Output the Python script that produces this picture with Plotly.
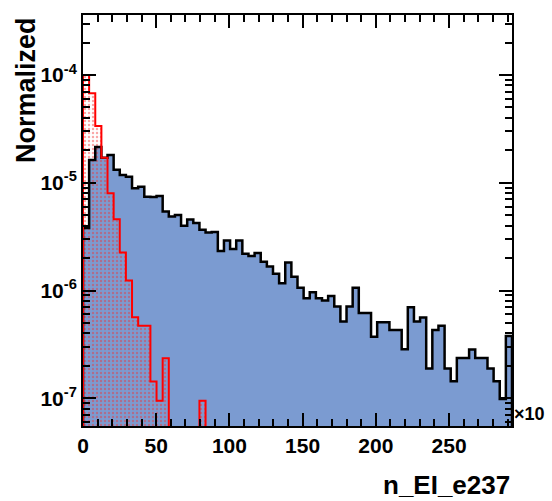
import numpy as np
import plotly.graph_objects as go

# Histogram binning (70 equal bins)
x_min, x_max = 0.0, 293.0
n_bins = 70

# Normalized bin contents, blue (filled) histogram
blue_vals = [
    3.81e-6, 1.63e-5, 2.15e-5, 1.71e-5, 1.81e-5, 1.32e-5, 1.18e-5, 1.14e-5, 8.89e-6, 9.2e-6,
    7.43e-6, 7.38e-6, 7.55e-6, 5.42e-6, 4.87e-6, 5.02e-6, 4.0e-6, 4.57e-6, 4.24e-6, 3.67e-6,
    3.46e-6, 3.50e-6, 2.33e-6, 2.92e-6, 2.43e-6, 2.92e-6, 2.20e-6, 2.09e-6, 2.23e-6, 1.85e-6,
    1.67e-6, 1.43e-6, 1.17e-6, 1.82e-6, 1.34e-6, 1.06e-6, 8.49e-7, 9.65e-7, 8.49e-7, 8.09e-7,
    8.91e-7, 7.10e-7, 5.15e-7, 7.10e-7, 1.06e-6, 6.19e-7, 6.19e-7, 3.73e-7, 5.08e-7, 5.08e-7,
    4.31e-7, 4.31e-7, 2.85e-7, 7.0e-7, 5.16e-7, 5.62e-7, 1.89e-7, 4.31e-7, 4.70e-7, 1.89e-7,
    1.44e-7, 2.37e-7, 2.37e-7, 2.84e-7, 2.37e-7, 2.37e-7, 1.89e-7, 1.44e-7, 9.87e-8, 3.79e-7,
]

# Normalized bin contents, red (hatched) histogram
red_vals = [
    1.0e-4, 6.76e-5, 3.36e-5, 1.71e-5, 8.0e-6, 4.58e-6, 2.25e-6, 1.24e-6, 5.65e-7, 4.7e-7,
    4.7e-7, 1.43e-7, 9.5e-8, 2.35e-7, 0, 0, 0, 0, 0, 9.5e-8,
] + [0] * 50

x_tick_vals = [0, 50, 100, 150, 200, 250]
x_tick_text = ["0", "50", "100", "150", "200", "250"]
y_tick_vals = [1e-7, 1e-6, 1e-5, 1e-4]
y_tick_text = ["10<sup>-7</sup>", "10<sup>-6</sup>", "10<sup>-5</sup>", "10<sup>-4</sup>"]

edges = np.linspace(x_min, x_max, n_bins + 1)
centers = 0.5 * (edges[:-1] + edges[1:])
width = edges[1] - edges[0]
FLOOR = 1e-9  # below the visible range, so outlines run down to the frame


def step_outline(vals):
    xs, ys = [edges[0]], [FLOOR]
    for i, v in enumerate(vals):
        vv = v if v > 0 else FLOOR
        xs += [edges[i], edges[i + 1]]
        ys += [vv, vv]
    xs.append(edges[-1])
    ys.append(FLOOR)
    return xs, ys


def bar_vals(vals):
    return [v if v > 0 else None for v in vals]


BLUE = "#7B9BD1"
FONT = "Liberation Sans, Arial, sans-serif"
fig = go.Figure()

fig.add_trace(go.Bar(
    x=centers, y=bar_vals(blue_vals), width=width, base=FLOOR,
    marker=dict(color=BLUE, line=dict(width=0)), showlegend=False,
))
bx, by = step_outline(blue_vals)
fig.add_trace(go.Scatter(x=bx, y=by, mode="lines",
                         line=dict(color="black", width=2.5), showlegend=False))

fig.add_trace(go.Bar(
    x=centers, y=bar_vals(red_vals), width=width, base=FLOOR,
    marker=dict(color="rgba(0,0,0,0)", line=dict(width=0),
                pattern=dict(shape=".", fgcolor="rgba(240,50,50,0.85)",
                             bgcolor="rgba(0,0,0,0)", size=4, solidity=0.3)),
    showlegend=False,
))
rx, ry = step_outline(red_vals)
fig.add_trace(go.Scatter(x=rx, y=ry, mode="lines",
                         line=dict(color="#FF0000", width=2), showlegend=False))

minor_y = [k * 10.0 ** e for e in range(-8, -3) for k in range(2, 10)]

tick_font = dict(family=FONT, size=21, color="black", weight="bold")

fig.update_layout(
    width=552, height=501,
    margin=dict(l=83, r=40, t=15, b=75),
    paper_bgcolor="white", plot_bgcolor="white",
    barmode="overlay", bargap=0,
    xaxis=dict(
        range=[x_min, x_max], tickvals=x_tick_vals, ticktext=x_tick_text,
        ticks="inside", ticklen=13, tickwidth=2, tickcolor="black",
        showline=True, linewidth=2, linecolor="black", mirror="ticks",
        showgrid=False, zeroline=False, tickfont=tick_font,
        minor=dict(ticks="inside", ticklen=7, tickwidth=1.5, tickcolor="black",
                   dtick=10, tick0=0, showgrid=False),
    ),
    yaxis=dict(
        type="log", range=[-7.257, -3.4434],
        tickvals=y_tick_vals, ticktext=y_tick_text,
        ticks="inside", ticklen=13, tickwidth=2, tickcolor="black",
        showline=True, linewidth=2, linecolor="black", mirror="ticks",
        showgrid=False, zeroline=False, tickfont=tick_font,
        minor=dict(ticks="inside", ticklen=7, tickwidth=1.5, tickcolor="black",
                   tickvals=minor_y, showgrid=False),
    ),
    annotations=[
        dict(text="Normalized", xref="paper", yref="paper", x=-0.133, y=1.0,
             xanchor="center", yanchor="top", textangle=-90, showarrow=False,
             font=dict(family=FONT, size=27, color="black", weight="bold")),
        dict(text="n_EI_e237", xref="paper", yref="paper", x=1.0, y=0,
             xanchor="right", yanchor="middle", yshift=-59, showarrow=False,
             font=dict(family=FONT, size=26, color="black", weight="bold")),
        dict(text="×10", xref="paper", yref="paper", x=1.0, y=0.03,
             xanchor="left", yanchor="middle", showarrow=False,
             font=dict(family=FONT, size=18, color="black", weight="bold")),
    ],
)

fig.write_html("out.html")
